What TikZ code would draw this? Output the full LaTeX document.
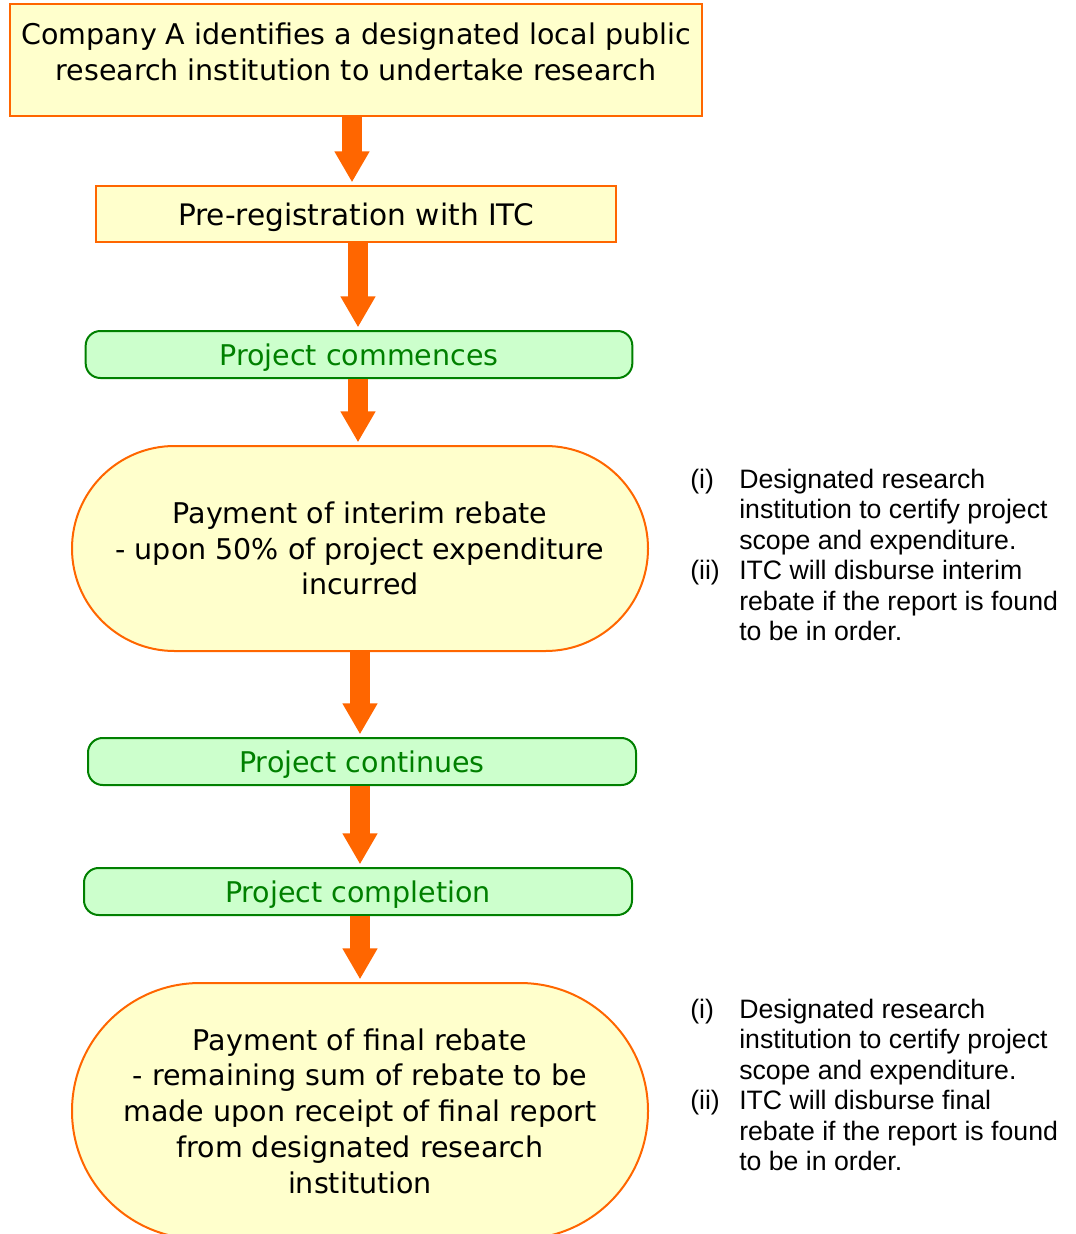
\documentclass[tikz,border=0pt]{standalone}
\usepackage{fontspec}
\setmainfont{DejaVu Sans}
\newfontfamily\notefont{Liberation Sans}
\usepackage{xcolor}
\definecolor{flowyellow}{RGB}{255,255,204}
\definecolor{floworange}{RGB}{255,102,0}
\definecolor{flowgreen}{RGB}{204,255,204}
\definecolor{flowdkgreen}{RGB}{0,128,0}
\usetikzlibrary{arrows.meta,positioning}

\begin{document}
\begin{tikzpicture}[x=0.75pt,y=-0.75pt,
  ybox/.style={draw=floworange,line width=1.5pt,fill=flowyellow,inner sep=0pt},
  gbox/.style={draw=flowdkgreen,line width=1.5pt,fill=flowgreen,rounded corners=11pt,
    minimum width=410pt,minimum height=35.25pt,inner sep=0pt,text=flowdkgreen,
    font=\fontsize{21.4}{26.8}\selectfont,text height=18pt,text depth=1.5pt},
  pill/.style={draw=floworange,line width=1.5pt,fill=flowyellow,minimum width=432pt,
    inner sep=0pt,align=center,font=\fontsize{21.4}{26.8}\selectfont},
  txt/.style={align=center,font=\fontsize{21.4}{26.8}\selectfont,inner sep=0pt},
  note/.style={font=\notefont\fontsize{20}{22.8}\selectfont,anchor=north west,inner sep=0pt},
  arr/.style={floworange,line width=15pt,-{Triangle[length=23.25pt,width=24.75pt]},
    shorten >=2pt}
]
  \useasboundingbox (0,0) rectangle (1075,1234);

  % Top boxes
  \node[ybox,minimum width=519pt,minimum height=84pt] (ident) at (356,60) {};
  \node[txt] (identtxt) at (356,52) {Company A identifies a designated local public\\research institution to undertake research};
  \node[ybox,txt,minimum width=390pt,minimum height=42pt,text height=18pt,text depth=1.5pt,
    font=\fontsize{22.2}{26.8}\selectfont] (prereg) at (356,214) {Pre-registration with ITC};

  % Project stages
  \node[gbox] (commence) at (359,354.5) {Project commences};
  \node[pill,minimum height=153.75pt,rounded corners=76.875pt] (interim) at (360,548.5)
    {Payment of interim rebate\\- upon 50\% of project expenditure\\incurred};
  \node[gbox,minimum width=411pt] (continue) at (362,761.5) {Project continues};
  \node[gbox,minimum width=411pt] (complete) at (358,891.5) {Project completion};
  \node[pill,minimum height=192pt,rounded corners=96pt] (final) at (360,1111)
    {Payment of final rebate\\- remaining sum of rebate to be\\made upon receipt of final report\\from designated research\\institution};

  % Notes
  \node[note] (note1) at (690,467) {\begin{tabular}{@{}p{36.75pt}@{}l@{}}
    (i) & Designated research\\
        & institution to certify project\\
        & scope and expenditure.\\
    (ii) & ITC will disburse interim\\
        & rebate if the report is found\\
        & to be in order.
  \end{tabular}};
  \node[note] (note2) at (690,997) {\begin{tabular}{@{}p{36.75pt}@{}l@{}}
    (i) & Designated research\\
        & institution to certify project\\
        & scope and expenditure.\\
    (ii) & ITC will disburse final\\
        & rebate if the report is found\\
        & to be in order.
  \end{tabular}};

  % Arrows
  \draw[arr] ([xshift=-3pt]ident.south) -- ([xshift=-3pt]prereg.north);
  \draw[arr] ([xshift=1.5pt]prereg.south) -- ([xshift=-0.75pt]commence.north);
  \draw[arr] ([xshift=-0.75pt]commence.south) -- ([xshift=-1.5pt]interim.north);
  \draw[arr] (interim.south) -- ([xshift=-1.5pt]continue.north);
  \draw[arr] ([xshift=-1.5pt]continue.south) -- ([xshift=1.5pt]complete.north);
  \draw[arr] ([xshift=1.5pt]complete.south) -- (final.north);
\end{tikzpicture}
\end{document}
